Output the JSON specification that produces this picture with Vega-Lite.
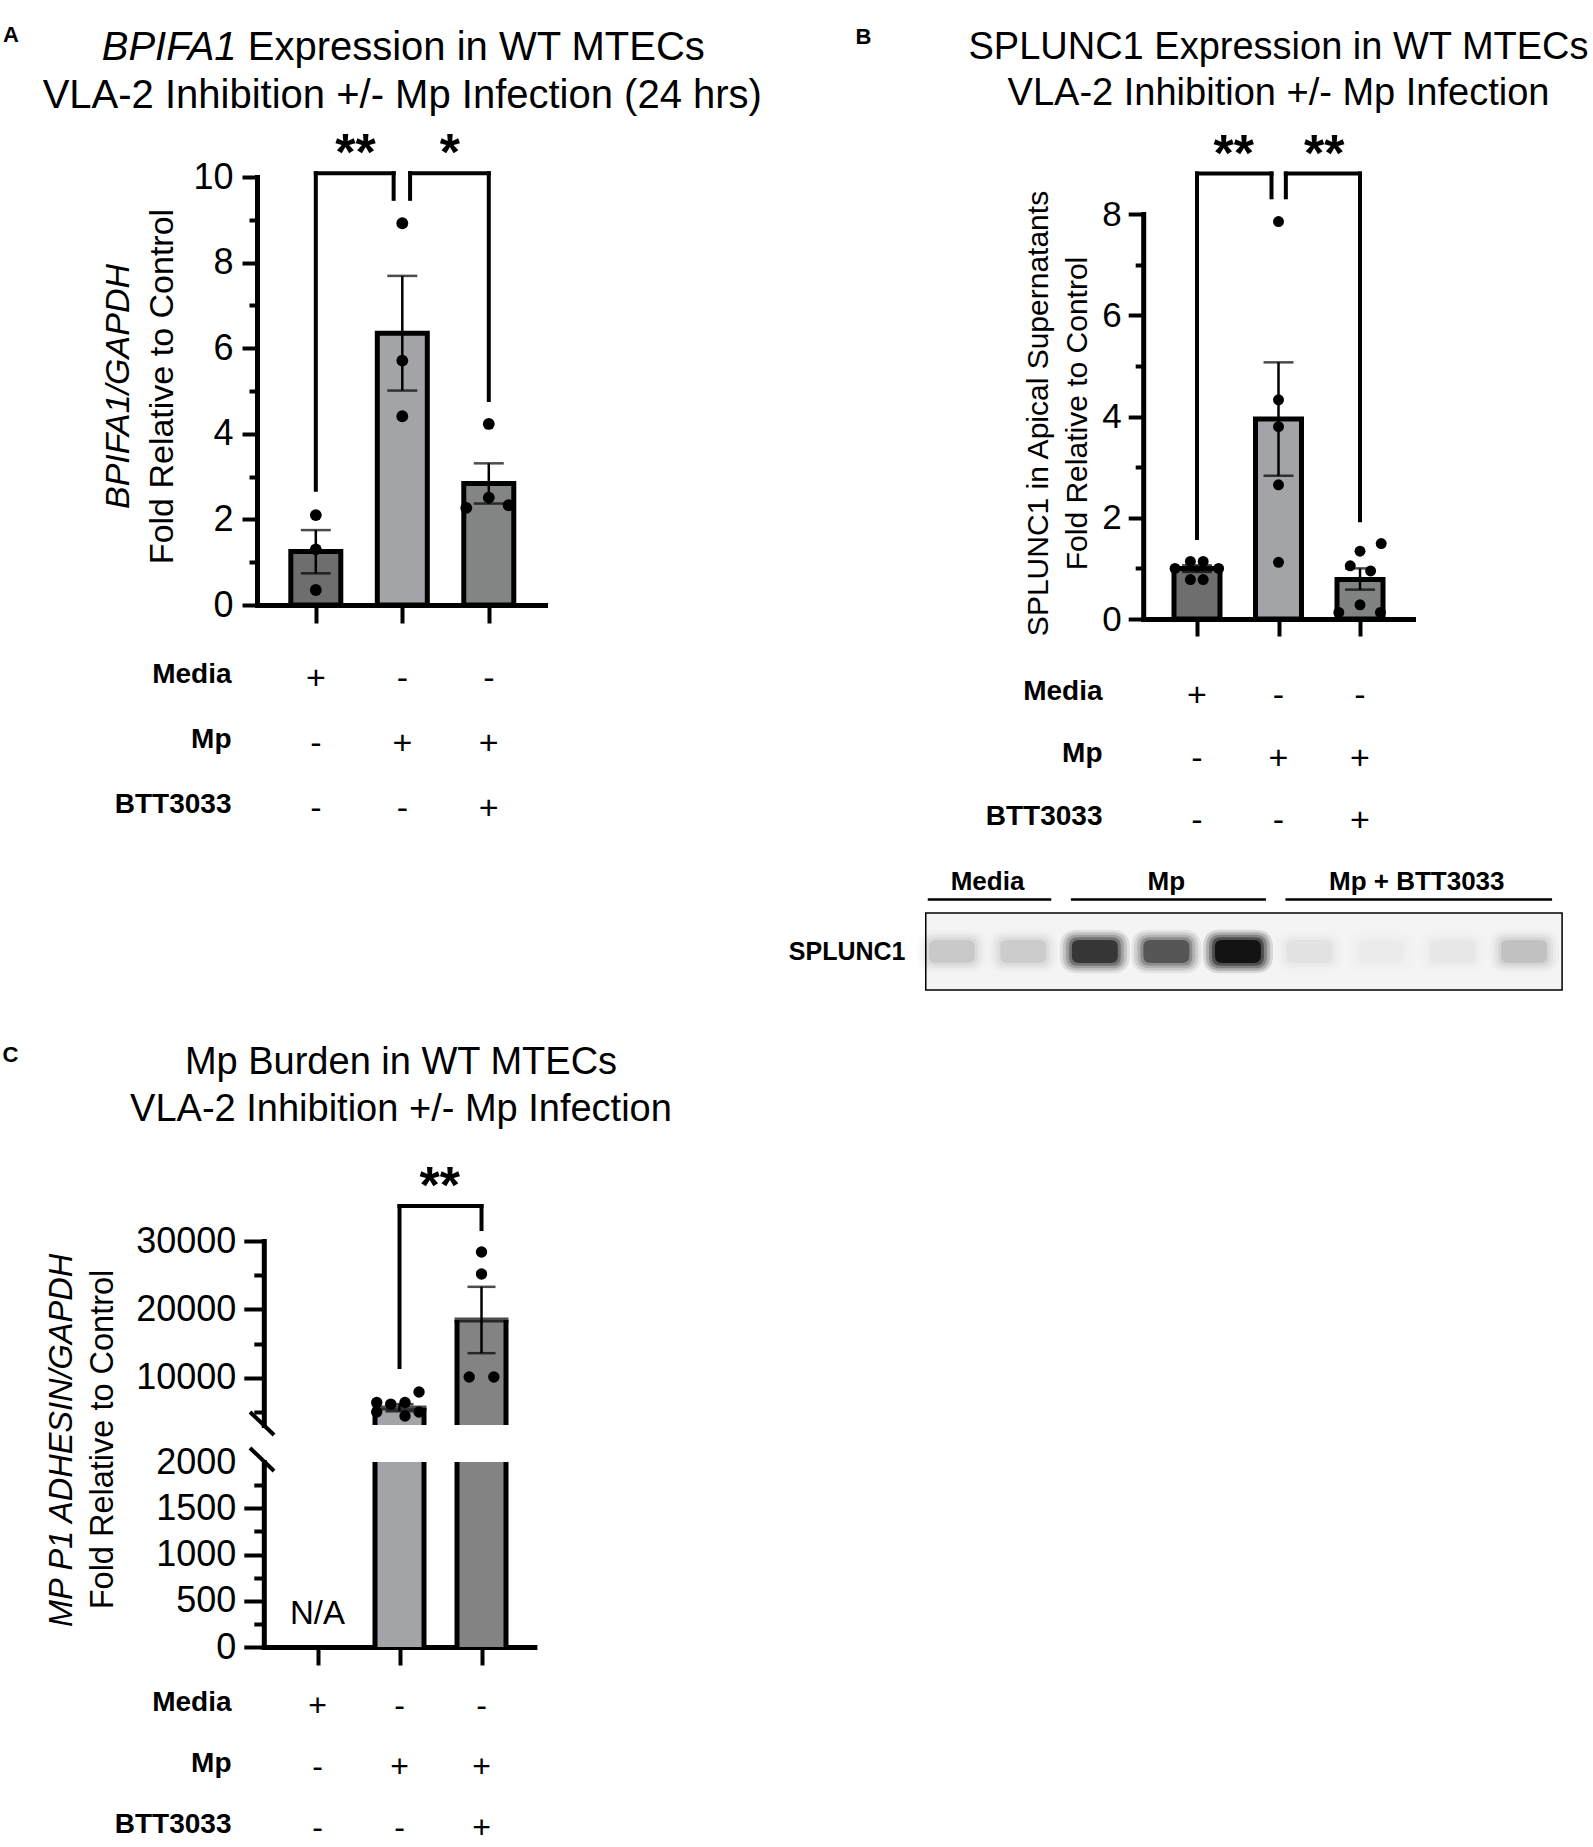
{
 "$schema": "https://vega.github.io/schema/vega-lite/v6.json",
 "width": 1593,
 "height": 1847,
 "autosize": {"type": "none"},
 "padding": 0,
 "background": "#ffffff",
 "config": {
  "view": {"stroke": null},
  "font": "Liberation Sans",
  "axis": {"grid": false, "domainColor": "#000000", "tickColor": "#000000", "labelColor": "#000000", "titleColor": "#000000", "labelFont": "Liberation Sans", "titleFont": "Liberation Sans", "titleFontWeight": "normal", "labelFlush": false, "labelOverlap": false, "labelBound": false, "domainWidth": 5, "tickWidth": 4, "domainCap": "square"},
  "text": {"color": "#000000", "font": "Liberation Sans"}
 },
 "datasets": {
  "a_bars": [
   {"cond": 1, "group": "Media", "mean": 1.25, "lo": 0.74, "hi": 1.75},
   {"cond": 2, "group": "Mp", "mean": 6.35, "lo": 5.01, "hi": 7.69},
   {"cond": 3, "group": "Mp + BTT3033", "mean": 2.84, "lo": 2.37, "hi": 3.31}
  ],
  "a_points": [
   {"group": "Media", "pos": 1, "value": 2.1},
   {"group": "Media", "pos": 1, "value": 1.3},
   {"group": "Media", "pos": 1, "value": 0.35},
   {"group": "Mp", "pos": 2, "value": 8.92},
   {"group": "Mp", "pos": 2, "value": 5.71},
   {"group": "Mp", "pos": 2, "value": 4.41},
   {"group": "Mp + BTT3033", "pos": 3, "value": 4.23},
   {"group": "Mp + BTT3033", "pos": 3, "value": 2.51},
   {"group": "Mp + BTT3033", "pos": 2.74, "value": 2.27},
   {"group": "Mp + BTT3033", "pos": 3.23, "value": 2.33}
  ],
  "a_sig": [
   {"x1": 1, "x2": 1.9, "top": 10.09, "y1": 2.69, "y2": 9.49, "xm": 1.46, "label": "**"},
   {"x1": 2.09, "x2": 3, "top": 10.09, "y1": 9.49, "y2": 4.79, "xm": 2.55, "label": "*"}
  ],
  "b_bars": [
   {"cond": 1, "group": "Media", "mean": 1.0, "lo": 0.93, "hi": 1.06},
   {"cond": 2, "group": "Mp", "mean": 3.95, "lo": 2.83, "hi": 5.07},
   {"cond": 3, "group": "Mp + BTT3033", "mean": 0.78, "lo": 0.58, "hi": 1.0}
  ],
  "b_points": [
   {"group": "Media", "pos": 0.919, "value": 1.136},
   {"group": "Media", "pos": 1.076, "value": 1.136},
   {"group": "Media", "pos": 0.731, "value": 1.0},
   {"group": "Media", "pos": 1.265, "value": 1.0},
   {"group": "Media", "pos": 0.919, "value": 0.78},
   {"group": "Media", "pos": 1.076, "value": 0.78},
   {"group": "Mp", "pos": 2, "value": 7.85},
   {"group": "Mp", "pos": 2, "value": 4.33},
   {"group": "Mp", "pos": 2, "value": 3.8},
   {"group": "Mp", "pos": 2, "value": 2.65},
   {"group": "Mp", "pos": 2, "value": 1.12},
   {"group": "Mp + BTT3033", "pos": 3.26, "value": 1.49},
   {"group": "Mp + BTT3033", "pos": 3.0, "value": 1.34},
   {"group": "Mp + BTT3033", "pos": 2.88, "value": 1.05},
   {"group": "Mp + BTT3033", "pos": 3.13, "value": 0.95},
   {"group": "Mp + BTT3033", "pos": 3.0, "value": 0.28},
   {"group": "Mp + BTT3033", "pos": 2.74, "value": 0.13},
   {"group": "Mp + BTT3033", "pos": 3.25, "value": 0.13}
  ],
  "b_sig": [
   {"x1": 1, "x2": 1.914, "top": 8.8, "y1": 1.6, "y2": 8.33, "xm": 1.45, "label": "**"},
   {"x1": 2.09, "x2": 3, "top": 8.8, "y1": 8.33, "y2": 1.95, "xm": 2.56, "label": "**"}
  ],
  "c_bars": [
   {"cond": 2, "group": "Mp", "mean": 5600, "lo": 5100, "hi": 6150},
   {"cond": 3, "group": "Mp + BTT3033", "mean": 18450, "lo": 13600, "hi": 23300}
  ],
  "c_points": [
   {"group": "Mp", "pos": 1.722, "value": 6400},
   {"group": "Mp", "pos": 1.893, "value": 6150},
   {"group": "Mp", "pos": 2.067, "value": 6400},
   {"group": "Mp", "pos": 2.238, "value": 7930},
   {"group": "Mp", "pos": 1.722, "value": 5000},
   {"group": "Mp", "pos": 2.067, "value": 4420},
   {"group": "Mp", "pos": 2.238, "value": 5000},
   {"group": "Mp + BTT3033", "pos": 3, "value": 28400},
   {"group": "Mp + BTT3033", "pos": 3, "value": 25180},
   {"group": "Mp + BTT3033", "pos": 2.85, "value": 10120},
   {"group": "Mp + BTT3033", "pos": 3.15, "value": 10120}
  ],
  "c_sig": [
   {"x1": 2, "x2": 3, "top": 35120, "y1": 11580, "y2": 31750, "xm": 2.49, "label": "**"}
  ],
  "design": [
   {"cond": 1, "factor": "Media", "sign": "+"},
   {"cond": 2, "factor": "Media", "sign": "-"},
   {"cond": 3, "factor": "Media", "sign": "-"},
   {"cond": 1, "factor": "Mp", "sign": "-"},
   {"cond": 2, "factor": "Mp", "sign": "+"},
   {"cond": 3, "factor": "Mp", "sign": "+"},
   {"cond": 1, "factor": "BTT3033", "sign": "-"},
   {"cond": 2, "factor": "BTT3033", "sign": "-"},
   {"cond": 3, "factor": "BTT3033", "sign": "+"}
  ],
  "blot": [
   {"lane": 1, "group": "Media", "protein": "SPLUNC1", "intensity": 0.11},
   {"lane": 2, "group": "Media", "protein": "SPLUNC1", "intensity": 0.1},
   {"lane": 3, "group": "Mp", "protein": "SPLUNC1", "intensity": 0.7},
   {"lane": 4, "group": "Mp", "protein": "SPLUNC1", "intensity": 0.52},
   {"lane": 5, "group": "Mp", "protein": "SPLUNC1", "intensity": 1.0},
   {"lane": 6, "group": "Mp + BTT3033", "protein": "SPLUNC1", "intensity": 0.04},
   {"lane": 7, "group": "Mp + BTT3033", "protein": "SPLUNC1", "intensity": 0.02},
   {"lane": 8, "group": "Mp + BTT3033", "protein": "SPLUNC1", "intensity": 0.03},
   {"lane": 9, "group": "Mp + BTT3033", "protein": "SPLUNC1", "intensity": 0.13}
  ]
 },
 "resolve": {"scale": {"x": "independent", "y": "independent", "color": "independent", "opacity": "independent"}, "axis": {"x": "independent", "y": "independent"}},
 "layer": [
  {
   "resolve": {"axis": {"x": "independent", "y": "independent"}},
   "layer": [
    {"data": {"name": "a_bars"}, "mark": {"type": "bar", "width": 50, "stroke": "#000000", "strokeWidth": 5},
     "encoding": {
      "x": {"field": "cond", "type": "quantitative", "scale": {"domain": [0.32, 3.65], "range": [257, 545], "nice": false, "zero": false, "padding": 0}, "axis": {"orient": "bottom", "offset": -1242, "values": [1, 2, 3], "labels": false, "tickSize": 18, "title": null}},
      "y": {"field": "mean", "type": "quantitative", "scale": {"domain": [0, 10], "range": [605, 177], "nice": false, "zero": false}, "axis": {"orient": "left", "offset": -257, "values": [0, 1, 2, 3, 4, 5, 6, 7, 8, 9, 10], "format": "d", "labelExpr": "datum.value % 2 == 0 ? datum.label : ''", "tickSize": {"condition": {"test": "datum.value % 2 == 1", "value": 8}, "value": 15}, "labelPadding": 9, "labelFontSize": 36, "title": "Fold Relative to Control", "titleFontSize": 34, "titleAngle": 270, "titleBaseline": "middle", "titleX": -95, "titleY": 386}},
      "color": {"field": "group", "type": "nominal", "scale": {"domain": ["Media", "Mp", "Mp + BTT3033"], "range": ["#6e6e6e", "#a3a4a8", "#838584"]}, "legend": null}
     }},
    {"data": {"name": "a_bars"}, "mark": {"type": "rule", "color": "#000000", "strokeWidth": 2.5},
     "encoding": {"x": {"field": "cond", "type": "quantitative", "axis": null}, "y": {"field": "lo", "type": "quantitative", "axis": null}, "y2": {"field": "hi"}}},
    {"data": {"name": "a_bars"}, "mark": {"type": "tick", "orient": "horizontal", "size": 30, "thickness": 2.5, "color": "#000000"},
     "encoding": {"x": {"field": "cond", "type": "quantitative", "axis": null}, "y": {"field": "lo", "type": "quantitative", "axis": null}}},
    {"data": {"name": "a_bars"}, "mark": {"type": "tick", "orient": "horizontal", "size": 30, "thickness": 2.5, "color": "#000000"},
     "encoding": {"x": {"field": "cond", "type": "quantitative", "axis": null}, "y": {"field": "hi", "type": "quantitative", "axis": null}}},
    {"data": {"name": "a_points"}, "mark": {"type": "circle", "size": 140, "color": "#000000", "opacity": 1},
     "encoding": {"x": {"field": "pos", "type": "quantitative", "axis": null}, "y": {"field": "value", "type": "quantitative", "axis": {"orient": "left", "offset": -257, "domain": false, "ticks": false, "labels": false, "title": "BPIFA1/GAPDH", "titleFontStyle": "italic", "titleFontSize": 34, "titleAngle": 270, "titleBaseline": "middle", "titleX": -139, "titleY": 386}}}},
    {"data": {"name": "a_sig"}, "mark": {"type": "rule", "color": "#000000", "strokeWidth": 4, "strokeCap": "square"},
     "encoding": {"x": {"field": "x1", "type": "quantitative", "axis": null}, "x2": {"field": "x2"}, "y": {"field": "top", "type": "quantitative", "axis": null}}},
    {"data": {"name": "a_sig"}, "mark": {"type": "rule", "color": "#000000", "strokeWidth": 4, "strokeCap": "square"},
     "encoding": {"x": {"field": "x1", "type": "quantitative", "axis": null}, "y": {"field": "top", "type": "quantitative", "axis": null}, "y2": {"field": "y1"}}},
    {"data": {"name": "a_sig"}, "mark": {"type": "rule", "color": "#000000", "strokeWidth": 4, "strokeCap": "square"},
     "encoding": {"x": {"field": "x2", "type": "quantitative", "axis": null}, "y": {"field": "top", "type": "quantitative", "axis": null}, "y2": {"field": "y2"}}},
    {"data": {"name": "a_sig"}, "mark": {"type": "text", "fontSize": 52, "fontWeight": "bold", "baseline": "alphabetic", "dy": -3},
     "encoding": {"x": {"field": "xm", "type": "quantitative", "axis": null}, "y": {"field": "top", "type": "quantitative", "axis": null}, "text": {"field": "label"}}},
    {"data": {"values": [{}]}, "mark": {"type": "text", "text": "BPIFA1", "fontSize": 40, "fontStyle": "italic", "align": "right", "baseline": "alphabetic"},
     "encoding": {"x": {"datum": 0.0842, "axis": null}, "y": {"datum": 12.73, "axis": null}}},
    {"data": {"values": [{}]}, "mark": {"type": "text", "text": "Expression in WT MTECs", "fontSize": 40, "align": "left", "baseline": "alphabetic"},
     "encoding": {"x": {"datum": 0.2127, "axis": null}, "y": {"datum": 12.73, "axis": null}}},
    {"data": {"values": [{}]}, "mark": {"type": "text", "text": "VLA-2 Inhibition +/- Mp Infection (24 hrs)", "fontSize": 40, "align": "center", "baseline": "alphabetic"},
     "encoding": {"x": {"datum": 2.0, "axis": null}, "y": {"datum": 11.62, "axis": null}}},
    {"data": {"values": [{}]}, "mark": {"type": "text", "text": "A", "fontSize": 22, "fontWeight": "bold", "align": "left", "baseline": "alphabetic"},
     "encoding": {"x": {"datum": -2.618, "axis": null}, "y": {"datum": 13.15, "axis": null}}}
   ]
  },
  {
   "data": {"name": "design"},
   "mark": {"type": "text", "fontSize": 34, "baseline": "middle"},
   "encoding": {
    "x": {"field": "cond", "type": "quantitative", "scale": {"domain": [0.32, 3.65], "range": [257, 545], "nice": false, "zero": false, "padding": 0}, "axis": null},
    "y": {"field": "factor", "type": "nominal", "scale": {"type": "point", "domain": ["Media", "Mp", "BTT3033"], "range": [679, 809], "padding": 0}, "axis": {"orient": "left", "offset": -231, "domain": false, "ticks": false, "tickSize": 0, "labelPadding": 0, "labelFontSize": 28, "labelFontWeight": "bold", "labelAlign": "right", "labelBaseline": "middle", "labelOffset": -5, "title": null}},
    "text": {"field": "sign"}
   }
  },
  {
   "resolve": {"axis": {"x": "independent", "y": "independent"}},
   "layer": [
    {"data": {"name": "b_bars"}, "mark": {"type": "bar", "width": 46, "stroke": "#000000", "strokeWidth": 5},
     "encoding": {
      "x": {"field": "cond", "type": "quantitative", "scale": {"domain": [0.34, 3.65], "range": [1143.2, 1413], "nice": false, "zero": false, "padding": 0}, "axis": {"orient": "bottom", "offset": -1228, "values": [1, 2, 3], "labels": false, "tickSize": 17, "title": null}},
      "y": {"field": "mean", "type": "quantitative", "scale": {"domain": [0, 8], "range": [619, 214], "nice": false, "zero": false}, "axis": {"orient": "left", "offset": -1143.2, "values": [0, 1, 2, 3, 4, 5, 6, 7, 8], "format": "d", "labelExpr": "datum.value % 2 == 0 ? datum.label : ''", "tickSize": {"condition": {"test": "datum.value % 2 == 1", "value": 8}, "value": 15}, "labelPadding": 7, "labelFontSize": 35, "title": "Fold Relative to Control", "titleFontSize": 30, "titleAngle": 270, "titleBaseline": "middle", "titleX": -66, "titleY": 413}},
      "color": {"field": "group", "type": "nominal", "scale": {"domain": ["Media", "Mp", "Mp + BTT3033"], "range": ["#6e6e6e", "#a3a4a8", "#818383"]}, "legend": null}
     }},
    {"data": {"name": "b_bars"}, "mark": {"type": "rule", "color": "#000000", "strokeWidth": 2.5},
     "encoding": {"x": {"field": "cond", "type": "quantitative", "axis": null}, "y": {"field": "lo", "type": "quantitative", "axis": null}, "y2": {"field": "hi"}}},
    {"data": {"name": "b_bars"}, "mark": {"type": "tick", "orient": "horizontal", "size": 30, "thickness": 2.5, "color": "#000000"},
     "encoding": {"x": {"field": "cond", "type": "quantitative", "axis": null}, "y": {"field": "lo", "type": "quantitative", "axis": null}}},
    {"data": {"name": "b_bars"}, "mark": {"type": "tick", "orient": "horizontal", "size": 30, "thickness": 2.5, "color": "#000000"},
     "encoding": {"x": {"field": "cond", "type": "quantitative", "axis": null}, "y": {"field": "hi", "type": "quantitative", "axis": null}}},
    {"data": {"name": "b_points"}, "mark": {"type": "circle", "size": 120, "color": "#000000", "opacity": 1},
     "encoding": {"x": {"field": "pos", "type": "quantitative", "axis": null}, "y": {"field": "value", "type": "quantitative", "axis": {"orient": "left", "offset": -1143.2, "domain": false, "ticks": false, "labels": false, "title": "SPLUNC1 in Apical Supernatants", "titleFontSize": 30, "titleAngle": 270, "titleBaseline": "middle", "titleX": -104.5, "titleY": 413}}}},
    {"data": {"name": "b_sig"}, "mark": {"type": "rule", "color": "#000000", "strokeWidth": 4, "strokeCap": "square"},
     "encoding": {"x": {"field": "x1", "type": "quantitative", "axis": null}, "x2": {"field": "x2"}, "y": {"field": "top", "type": "quantitative", "axis": null}}},
    {"data": {"name": "b_sig"}, "mark": {"type": "rule", "color": "#000000", "strokeWidth": 4, "strokeCap": "square"},
     "encoding": {"x": {"field": "x1", "type": "quantitative", "axis": null}, "y": {"field": "top", "type": "quantitative", "axis": null}, "y2": {"field": "y1"}}},
    {"data": {"name": "b_sig"}, "mark": {"type": "rule", "color": "#000000", "strokeWidth": 4, "strokeCap": "square"},
     "encoding": {"x": {"field": "x2", "type": "quantitative", "axis": null}, "y": {"field": "top", "type": "quantitative", "axis": null}, "y2": {"field": "y2"}}},
    {"data": {"name": "b_sig"}, "mark": {"type": "text", "fontSize": 52, "fontWeight": "bold", "baseline": "alphabetic", "dy": -3},
     "encoding": {"x": {"field": "xm", "type": "quantitative", "axis": null}, "y": {"field": "top", "type": "quantitative", "axis": null}, "text": {"field": "label"}}},
    {"data": {"values": [{}]}, "mark": {"type": "text", "text": "SPLUNC1 Expression in WT MTECs", "fontSize": 38, "align": "center", "baseline": "alphabetic"},
     "encoding": {"x": {"datum": 2.0, "axis": null}, "y": {"datum": 11.062, "axis": null}}},
    {"data": {"values": [{}]}, "mark": {"type": "text", "text": "VLA-2 Inhibition +/- Mp Infection", "fontSize": 38, "align": "center", "baseline": "alphabetic"},
     "encoding": {"x": {"datum": 2.0, "axis": null}, "y": {"datum": 10.153, "axis": null}}},
    {"data": {"values": [{}]}, "mark": {"type": "text", "text": "B", "fontSize": 22, "fontWeight": "bold", "align": "left", "baseline": "alphabetic"},
     "encoding": {"x": {"datum": -3.19, "axis": null}, "y": {"datum": 11.358, "axis": null}}}
   ]
  },
  {
   "data": {"name": "design"},
   "mark": {"type": "text", "fontSize": 34, "baseline": "middle"},
   "encoding": {
    "x": {"field": "cond", "type": "quantitative", "scale": {"domain": [0.34, 3.65], "range": [1143.2, 1413], "nice": false, "zero": false, "padding": 0}, "axis": null},
    "y": {"field": "factor", "type": "nominal", "scale": {"type": "point", "domain": ["Media", "Mp", "BTT3033"], "range": [696, 821], "padding": 0}, "axis": {"orient": "left", "offset": -1102, "domain": false, "ticks": false, "tickSize": 0, "labelPadding": 0, "labelFontSize": 28, "labelFontWeight": "bold", "labelAlign": "right", "labelBaseline": "middle", "labelOffset": -5, "title": null}},
    "text": {"field": "sign"}
   }
  },
  {
   "data": {"name": "blot"},
   "resolve": {"scale": {"opacity": "independent"}},
   "encoding": {
    "x": {"field": "lane", "type": "quantitative", "scale": {"domain": [0.64, 9.53], "range": [926, 1562], "nice": false, "zero": false, "padding": 0}, "axis": null},
    "y": {"field": "protein", "type": "nominal", "scale": {"type": "band", "domain": ["SPLUNC1"], "range": [913, 990], "paddingInner": 0, "paddingOuter": 0}, "axis": {"orient": "left", "offset": -905, "domain": false, "ticks": false, "tickSize": 0, "labelPadding": 0, "labelFontSize": 25, "labelFontWeight": "bold", "labelAlign": "right", "title": null}}
   },
   "layer": [
    {"transform": [{"aggregate": [{"op": "min", "field": "lane", "as": "first"}, {"op": "max", "field": "lane", "as": "last"}], "groupby": ["protein"]}],
     "mark": {"type": "rect", "fill": "#f4f4f4", "stroke": "#000000", "strokeWidth": 1.5, "xOffset": -26, "x2Offset": 38},
     "encoding": {"x": {"field": "first", "type": "quantitative"}, "x2": {"field": "last"}}},
    {"mark": {"type": "point", "shape": "M-0.5,-0.62L0.5,-0.62Q1,-0.62,1,-0.12L1,0.12Q1,0.62,0.5,0.62L-0.5,0.62Q-1,0.62,-1,0.12L-1,-0.12Q-1,-0.62,-0.5,-0.62Z", "filled": true, "color": "#000000", "size": 4900, "strokeWidth": 0},
     "encoding": {"opacity": {"field": "intensity", "type": "quantitative", "scale": {"domain": [0, 1], "range": [0, 0.12]}, "legend": null}}},
    {"mark": {"type": "point", "shape": "M-0.55,-0.6L0.55,-0.6Q1,-0.6,1,-0.15L1,0.15Q1,0.6,0.55,0.6L-0.55,0.6Q-1,0.6,-1,0.15L-1,-0.15Q-1,-0.6,-0.55,-0.6Z", "filled": true, "color": "#000000", "size": 4096, "strokeWidth": 0},
     "encoding": {"opacity": {"field": "intensity", "type": "quantitative", "scale": {"domain": [0, 1], "range": [0, 0.18]}, "legend": null}}},
    {"mark": {"type": "point", "shape": "M-0.6,-0.58L0.6,-0.58Q1,-0.58,1,-0.18L1,0.18Q1,0.58,0.6,0.58L-0.6,0.58Q-1,0.58,-1,0.18L-1,-0.18Q-1,-0.58,-0.6,-0.58Z", "filled": true, "color": "#000000", "size": 3364, "strokeWidth": 0},
     "encoding": {"opacity": {"field": "intensity", "type": "quantitative", "scale": {"domain": [0, 1], "range": [0, 0.25]}, "legend": null}}},
    {"mark": {"type": "point", "shape": "M-0.65,-0.55L0.65,-0.55Q1,-0.55,1,-0.2L1,0.2Q1,0.55,0.65,0.55L-0.65,0.55Q-1,0.55,-1,0.2L-1,-0.2Q-1,-0.55,-0.65,-0.55Z", "filled": true, "color": "#000000", "size": 2704, "strokeWidth": 0},
     "encoding": {"opacity": {"field": "intensity", "type": "quantitative", "scale": {"domain": [0, 1], "range": [0, 0.4]}, "legend": null}}},
    {"mark": {"type": "point", "shape": "M-0.7,-0.5L0.7,-0.5Q1,-0.5,1,-0.2L1,0.2Q1,0.5,0.7,0.5L-0.7,0.5Q-1,0.5,-1,0.2L-1,-0.2Q-1,-0.5,-0.7,-0.5Z", "filled": true, "color": "#000000", "size": 2116, "strokeWidth": 0},
     "encoding": {"opacity": {"field": "intensity", "type": "quantitative", "scale": {"domain": [0, 1], "range": [0, 0.75]}, "legend": null}}},
    {"transform": [{"aggregate": [{"op": "min", "field": "lane", "as": "first"}, {"op": "max", "field": "lane", "as": "last"}, {"op": "mean", "field": "lane", "as": "mid"}], "groupby": ["group", "protein"]}],
     "layer": [
      {"mark": {"type": "rule", "color": "#000000", "strokeWidth": 2.5, "yOffset": -52, "xOffset": -24, "x2Offset": 28},
       "encoding": {"x": {"field": "first", "type": "quantitative"}, "x2": {"field": "last"}}},
      {"mark": {"type": "text", "fontSize": 26, "fontWeight": "bold", "baseline": "alphabetic", "yOffset": -62},
       "encoding": {"x": {"field": "mid", "type": "quantitative"}, "text": {"field": "group"}}}
     ]}
   ]
  },
  {
   "resolve": {"axis": {"x": "independent", "y": "independent"}},
   "layer": [
    {"data": {"name": "c_bars"}, "mark": {"type": "bar", "width": 49},
     "encoding": {
      "x": {"field": "cond", "type": "quantitative", "scale": {"domain": [0.345, 3.645], "range": [263.8, 534.4], "nice": false, "zero": false, "padding": 0}, "axis": null},
      "y": {"field": "mean", "type": "quantitative", "scale": {"domain": [3100, 30000], "range": [1425, 1241], "nice": false, "zero": false}, "axis": {"orient": "left", "offset": -263.8, "values": [5000, 10000, 15000, 20000, 25000, 30000], "format": "d", "labelExpr": "datum.value % 10000 == 0 ? datum.label : ''", "tickSize": {"condition": {"test": "datum.value % 10000 != 0", "value": 10}, "value": 20}, "labelPadding": 8, "labelFontSize": 36, "title": "MP P1 ADHESIN/GAPDH", "titleFontStyle": "italic", "titleFontSize": 32.5, "titleAngle": 270, "titleBaseline": "middle", "titleX": -202, "titleY": 1440}},
      "y2": {"datum": 3100},
      "color": {"field": "group", "type": "nominal", "scale": {"domain": ["Mp", "Mp + BTT3033"], "range": ["#a3a4a8", "#838383"]}, "legend": null}
     }},
    {"data": {"name": "c_bars"}, "mark": {"type": "rule", "color": "#000000", "strokeWidth": 5, "xOffset": -24.5},
     "encoding": {"x": {"field": "cond", "type": "quantitative", "axis": null}, "y": {"field": "mean", "type": "quantitative", "axis": null}, "y2": {"datum": 3100}}},
    {"data": {"name": "c_bars"}, "mark": {"type": "rule", "color": "#000000", "strokeWidth": 5, "xOffset": 24.5},
     "encoding": {"x": {"field": "cond", "type": "quantitative", "axis": null}, "y": {"field": "mean", "type": "quantitative", "axis": null}, "y2": {"datum": 3100}}},
    {"data": {"name": "c_bars"}, "mark": {"type": "tick", "orient": "horizontal", "size": 54, "thickness": 5, "color": "#000000"},
     "encoding": {"x": {"field": "cond", "type": "quantitative", "axis": null}, "y": {"field": "mean", "type": "quantitative", "axis": null}}},
    {"data": {"name": "c_bars"}, "mark": {"type": "rule", "color": "#000000", "strokeWidth": 2.5},
     "encoding": {"x": {"field": "cond", "type": "quantitative", "axis": null}, "y": {"field": "lo", "type": "quantitative", "axis": null}, "y2": {"field": "hi"}}},
    {"data": {"name": "c_bars"}, "mark": {"type": "tick", "orient": "horizontal", "size": 28, "thickness": 2.5, "color": "#000000"},
     "encoding": {"x": {"field": "cond", "type": "quantitative", "axis": null}, "y": {"field": "lo", "type": "quantitative", "axis": null}}},
    {"data": {"name": "c_bars"}, "mark": {"type": "tick", "orient": "horizontal", "size": 28, "thickness": 2.5, "color": "#000000"},
     "encoding": {"x": {"field": "cond", "type": "quantitative", "axis": null}, "y": {"field": "hi", "type": "quantitative", "axis": null}}},
    {"data": {"name": "c_points"}, "mark": {"type": "circle", "size": 130, "color": "#000000", "opacity": 1},
     "encoding": {"x": {"field": "pos", "type": "quantitative", "axis": null}, "y": {"field": "value", "type": "quantitative", "axis": null}}},
    {"data": {"name": "c_sig"}, "mark": {"type": "rule", "color": "#000000", "strokeWidth": 4, "strokeCap": "square"},
     "encoding": {"x": {"field": "x1", "type": "quantitative", "axis": null}, "x2": {"field": "x2"}, "y": {"field": "top", "type": "quantitative", "axis": null}}},
    {"data": {"name": "c_sig"}, "mark": {"type": "rule", "color": "#000000", "strokeWidth": 4, "strokeCap": "square"},
     "encoding": {"x": {"field": "x1", "type": "quantitative", "axis": null}, "y": {"field": "top", "type": "quantitative", "axis": null}, "y2": {"field": "y1"}}},
    {"data": {"name": "c_sig"}, "mark": {"type": "rule", "color": "#000000", "strokeWidth": 4, "strokeCap": "square"},
     "encoding": {"x": {"field": "x2", "type": "quantitative", "axis": null}, "y": {"field": "top", "type": "quantitative", "axis": null}, "y2": {"field": "y2"}}},
    {"data": {"name": "c_sig"}, "mark": {"type": "text", "fontSize": 52, "fontWeight": "bold", "baseline": "alphabetic", "dy": -3},
     "encoding": {"x": {"field": "xm", "type": "quantitative", "axis": null}, "y": {"field": "top", "type": "quantitative", "axis": null}, "text": {"field": "label"}}},
    {"data": {"values": [{}]}, "mark": {"type": "rule", "color": "#000000", "strokeWidth": 4},
     "encoding": {"x": {"datum": 0.177, "axis": null}, "x2": {"datum": 0.47}, "y": {"datum": 5000, "axis": null}, "y2": {"datum": 1638}}},
    {"data": {"values": [{}]}, "mark": {"type": "rule", "color": "#000000", "strokeWidth": 4},
     "encoding": {"x": {"datum": 0.177, "axis": null}, "x2": {"datum": 0.47}, "y": {"datum": -262, "axis": null}, "y2": {"datum": -3625}}},
    {"data": {"values": [{}]}, "mark": {"type": "text", "text": "Mp Burden in WT MTECs", "fontSize": 38, "align": "center", "baseline": "alphabetic"},
     "encoding": {"x": {"datum": 2.018, "axis": null}, "y": {"datum": 54410, "axis": null}}},
    {"data": {"values": [{}]}, "mark": {"type": "text", "text": "VLA-2 Inhibition +/- Mp Infection", "fontSize": 38, "align": "center", "baseline": "alphabetic"},
     "encoding": {"x": {"datum": 2.018, "axis": null}, "y": {"datum": 47540, "axis": null}}},
    {"data": {"values": [{}]}, "mark": {"type": "text", "text": "C", "fontSize": 22, "fontWeight": "bold", "align": "left", "baseline": "alphabetic"},
     "encoding": {"x": {"datum": -2.841, "axis": null}, "y": {"datum": 56170, "axis": null}}}
   ]
  },
  {
   "resolve": {"axis": {"x": "independent", "y": "independent"}},
   "layer": [
    {"data": {"name": "c_bars"}, "mark": {"type": "bar", "width": 49},
     "encoding": {
      "x": {"field": "cond", "type": "quantitative", "scale": {"domain": [0.345, 3.645], "range": [263.8, 534.4], "nice": false, "zero": false, "padding": 0}, "axis": {"orient": "bottom", "offset": -200, "values": [1, 2, 3], "labels": false, "tickSize": 18, "title": null}},
      "y": {"field": "mean", "type": "quantitative", "scale": {"domain": [0, 2000], "range": [1647, 1462], "nice": false, "zero": false, "clamp": true}, "axis": {"orient": "left", "offset": -263.8, "values": [0, 250, 500, 750, 1000, 1250, 1500, 1750, 2000], "format": "d", "labelExpr": "datum.value % 500 == 0 ? datum.label : ''", "tickSize": {"condition": {"test": "datum.value % 500 != 0", "value": 10}, "value": 20}, "tickOpacity": {"condition": {"test": "datum.value == 2000", "value": 0}, "value": 1}, "labelPadding": 8, "labelFontSize": 36, "title": "Fold Relative to Control", "titleFontSize": 32.5, "titleAngle": 270, "titleBaseline": "middle", "titleX": -161, "titleY": 1439}},
      "y2": {"datum": 0},
      "color": {"field": "group", "type": "nominal", "scale": {"domain": ["Mp", "Mp + BTT3033"], "range": ["#a3a4a8", "#838383"]}, "legend": null}
     }},
    {"data": {"name": "c_bars"}, "mark": {"type": "rule", "color": "#000000", "strokeWidth": 5, "xOffset": -24.5},
     "encoding": {"x": {"field": "cond", "type": "quantitative", "axis": null}, "y": {"field": "mean", "type": "quantitative", "axis": null}, "y2": {"datum": 0}}},
    {"data": {"name": "c_bars"}, "mark": {"type": "rule", "color": "#000000", "strokeWidth": 5, "xOffset": 24.5},
     "encoding": {"x": {"field": "cond", "type": "quantitative", "axis": null}, "y": {"field": "mean", "type": "quantitative", "axis": null}, "y2": {"datum": 0}}},
    {"data": {"values": [{}]}, "mark": {"type": "text", "text": "N/A", "fontSize": 33, "align": "center", "baseline": "middle"},
     "encoding": {"x": {"datum": 1, "axis": null}, "y": {"datum": 360, "axis": null}}}
   ]
  },
  {
   "data": {"name": "design"},
   "mark": {"type": "text", "fontSize": 32, "baseline": "middle"},
   "encoding": {
    "x": {"field": "cond", "type": "quantitative", "scale": {"domain": [0.345, 3.645], "range": [263.8, 534.4], "nice": false, "zero": false, "padding": 0}, "axis": null},
    "y": {"field": "factor", "type": "nominal", "scale": {"type": "point", "domain": ["Media", "Mp", "BTT3033"], "range": [1706, 1828], "padding": 0}, "axis": {"orient": "left", "offset": -231, "domain": false, "ticks": false, "tickSize": 0, "labelPadding": 0, "labelFontSize": 28, "labelFontWeight": "bold", "labelAlign": "right", "labelBaseline": "middle", "labelOffset": -4, "title": null}},
    "text": {"field": "sign"}
   }
  }
 ]
}
